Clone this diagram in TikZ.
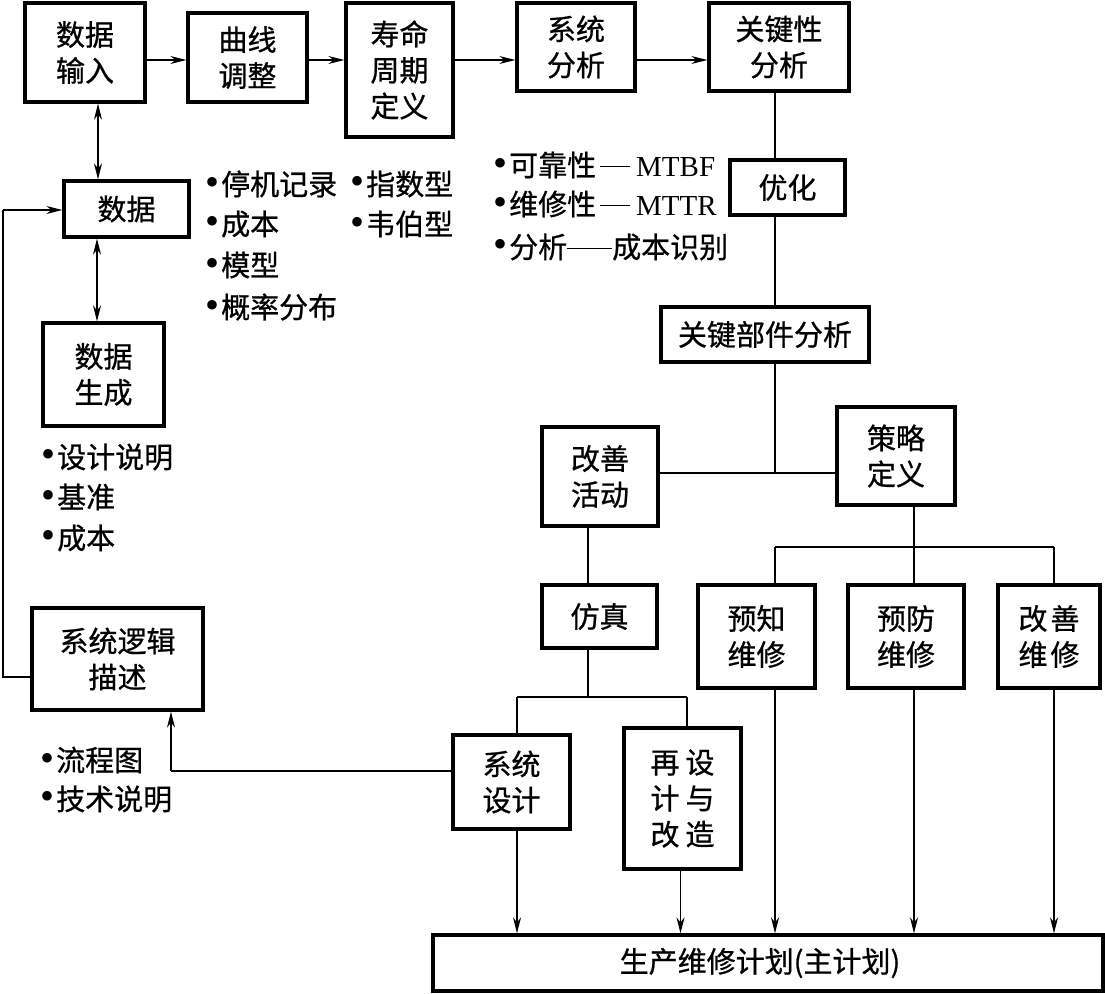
\documentclass[tikz,border=0pt]{standalone}
\usepackage{fontspec}
\setmainfont{Liberation Serif}
\newfontfamily\cjk[FakeBold=0.8]{Noto Sans CJK SC}
\usetikzlibrary{arrows.meta,calc}
\newcommand\mybul{{\fontsize{40}{36}\selectfont\rmfamily •}\hspace{2pt}}
\newcommand\mydash[1]{\hspace{4pt}\rule[9pt]{#1}{1.3pt}\hspace{6pt}}
\begin{document}
\begin{tikzpicture}[x=1pt,y=-1pt,
  box/.style={draw,line width=3.2pt,inner sep=0pt,align=center,font=\cjk\fontsize{29}{36}\selectfont},
  conn/.style={line width=1.4pt},
  arr/.style={conn,-{Stealth[length=16pt,width=8pt,inset=5pt]}},
  darr/.style={conn,{Stealth[length=16pt,width=8pt,inset=5pt]}-{Stealth[length=16pt,width=8pt,inset=5pt]}},
  lbl/.style={anchor=west,inner sep=0pt,font=\cjk\fontsize{29}{36}\selectfont}]
\useasboundingbox (0,0) rectangle (1105,993);

% boxes
\node[box,minimum width=120pt,minimum height=99pt] (in) at (85,52.5) {数据\\输入};
\node[box,minimum width=119pt,minimum height=89pt] (curve) at (247.5,57.5) {曲线\\调整};
\node[box,minimum width=107pt,minimum height=134pt] (life) at (399.5,70) {寿命\\周期\\定义};
\node[box,minimum width=118pt,minimum height=88pt] (sysana) at (576,47) {系统\\分析};
\node[box,minimum width=140pt,minimum height=88pt] (crit) at (779,47) {关键性\\分析};
\node[box,minimum width=125pt,minimum height=56pt] (data) at (126.5,209) {数据};
\node[box,minimum width=121pt,minimum height=103pt] (gen) at (103.5,374.5) {数据\\生成};
\node[box,minimum width=171pt,minimum height=102pt] (logic) at (117.5,659) {系统逻辑\\描述};
\node[box,minimum width=115pt,minimum height=55pt] (opt) at (787.5,187.5) {优化};
\node[box,minimum width=208pt,minimum height=55pt] (keycomp) at (765,334.5) {关键部件分析};
\node[box,minimum width=116pt,minimum height=99pt] (improve) at (600,476.5) {改善\\活动};
\node[box,minimum width=118pt,minimum height=98pt] (strategy) at (896,456) {策略\\定义};
\node[box,minimum width=115pt,minimum height=63pt] (sim) at (599.5,616.5) {仿真};
\node[box,minimum width=117pt,minimum height=103pt] (pred) at (756.5,636.5) {预知\\维修};
\node[box,minimum width=116pt,minimum height=103pt] (prev) at (906,636.5) {预防\\维修};
\node[box,minimum width=102pt,minimum height=103pt] (corr) at (1049,636.5) {改\hspace{3pt}善\\维\hspace{3pt}修};
\node[box,minimum width=117pt,minimum height=94pt] (sysdes) at (511.5,782) {系统\\设计};
\node[box,minimum width=117pt,minimum height=141pt] (redes) at (682.5,798.5) {再\hspace{6pt}设\\计\hspace{6pt}与\\改\hspace{6pt}造};
\node[box,minimum width=670pt,minimum height=56pt] (plan) at (768,963) {\hspace{-16pt}生产维修计划(主计划)};

% junction coordinates
\coordinate (j1) at (775,473);
\coordinate (j2) at (588,697);
\coordinate (b1) at (517,697);
\coordinate (b2) at (687,697);
\coordinate (j3) at (914,547);
\coordinate (c1) at (775,547);
\coordinate (c3) at (1054,547);
\coordinate (ly) at (3,677);
\coordinate (ld) at (3,210);
\coordinate (sx) at (171,771);

% top row arrows
\draw[arr] (in.east |- 0,60) -- (curve.west |- 0,60);
\draw[arr] (curve.east |- 0,60) -- (life.west |- 0,60);
\draw[arr] (life.east |- 0,60) -- (sysana.west |- 0,60);
\draw[arr] (sysana.east |- 0,60) -- (crit.west |- 0,60);

% left column
\draw[darr] (in.south -| 98,0) -- (data.north -| 98,0);
\draw[darr] (data.south -| 97,0) -- (gen.north -| 97,0);
\draw[conn] (logic.west |- ly) -- (ly) -- (ld);
\draw[arr] (ld) -- (data.west |- ld);

% right spine
\draw[conn] (crit.south -| j1) -- (opt.north -| j1);
\draw[conn] (opt.south -| j1) -- (keycomp.north -| j1);
\draw[conn] (keycomp.south -| j1) -- (j1);
\draw[conn] (improve.east |- j1) -- (strategy.west |- j1);

% improvement branch
\draw[conn] (improve.south -| j2) -- (sim.north -| j2);
\draw[conn] (sim.south -| j2) -- (j2);
\draw[conn] (b1) -- (b2);
\draw[conn] (b1) -- (sysdes.north -| b1);
\draw[conn] (b2) -- (redes.north -| b2);

% strategy branch
\draw[conn] (strategy.south -| j3) -- (j3);
\draw[conn] (c1) -- (c3);
\draw[conn] (c1) -- (pred.north -| c1);
\draw[conn] (j3) -- (prev.north -| j3);
\draw[conn] (c3) -- (corr.north -| c3);

% arrows to plan
\draw[arr] (sysdes.south -| b1) -- (plan.north -| b1);
\draw[arr] (redes.south -| 680.5,0) -- (plan.north -| 680.5,0);
\draw[arr] (pred.south -| c1) -- (plan.north -| c1);
\draw[arr] (prev.south -| j3) -- (plan.north -| j3);
\draw[arr] (corr.south -| c3) -- (plan.north -| c3);

% system design to logic
\draw[conn] (sysdes.west |- sx) -- (sx);
\draw[arr] (sx) -- (logic.south -| sx);

% labels
\node[lbl] (t1) at (205,184) {\mybul 停机记录};
\node[lbl] (t2) at (205,224) {\mybul 成本};
\node[lbl] (t3) at (205,265) {\mybul 模型};
\node[lbl] (t4) at (205,307) {\mybul 概率分布};
\node[lbl] (t5) at (350,184) {\mybul 指数型};
\node[lbl] (t6) at (350,224) {\mybul 韦伯型};
\node[lbl] (t7) at (493,165) {\mybul 可靠性\mydash{30pt}{\rmfamily MTBF}};
\node[lbl] (t8) at (493,204) {\mybul 维修性\mydash{30pt}{\rmfamily MTTR}};
\node[lbl] (t9) at (493,247) {\mybul 分析\rule[9pt]{45pt}{1.3pt}成本识别};
\node[lbl] (t10) at (41,457) {\mybul 设计说明};
\node[lbl] (t11) at (41,497) {\mybul 基准};
\node[lbl] (t12) at (41,538) {\mybul 成本};
\node[lbl] (t13) at (40,760) {\mybul 流程图};
\node[lbl] (t14) at (40,799) {\mybul 技术说明};
\end{tikzpicture}
\end{document}
